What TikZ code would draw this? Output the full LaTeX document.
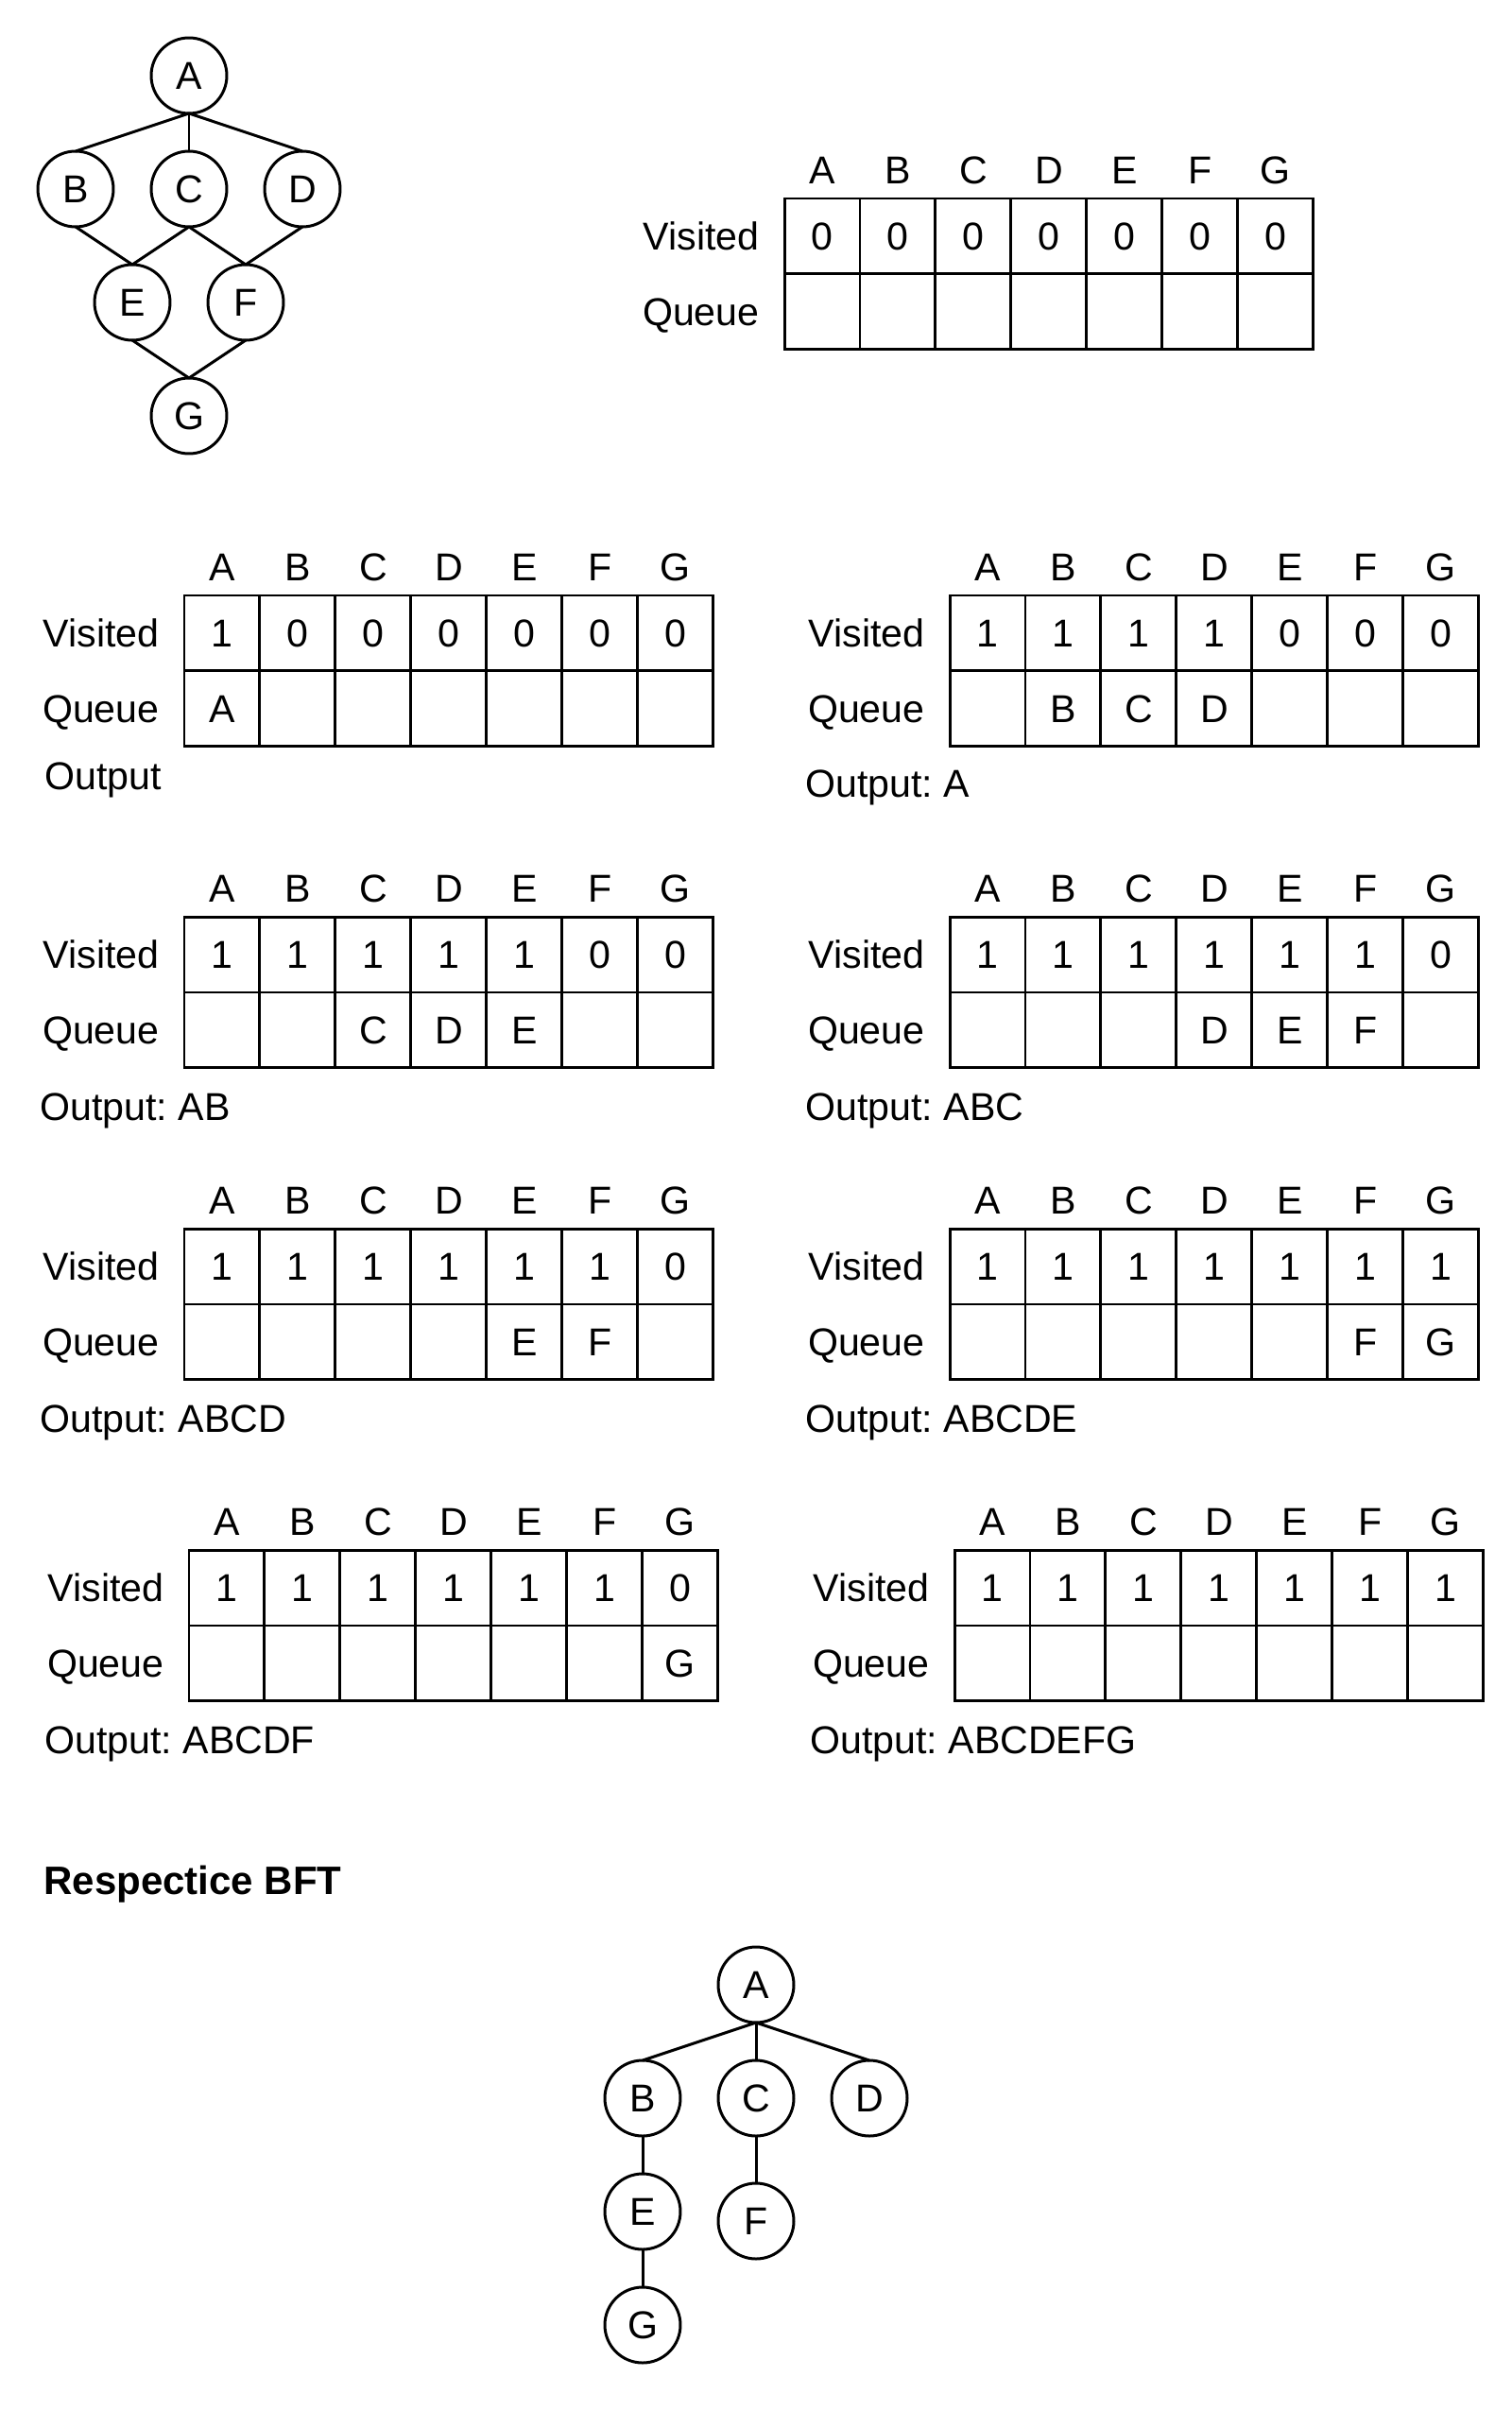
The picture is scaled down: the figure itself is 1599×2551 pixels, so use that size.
\documentclass[tikz,border=0pt]{standalone}
\usepackage{fontspec}
\setmainfont{Liberation Sans}
\frenchspacing
\usetikzlibrary{positioning}
\tikzset{
	vertex/.style  = {draw, circle, minimum size=1.6cm, inner sep=0pt, outer sep=0pt},
	cell/.style    = {draw, rectangle, minimum width=1.6cm, minimum height=1.6cm, inner sep=0pt, outer sep=0pt, text height=16.7pt, text depth=0pt},
	head/.style    = {inner sep=0pt, text height=16.7pt, text depth=0pt},
	rowname/.style = {inner sep=0pt, text height=16.7pt, text depth=0pt},
	outtext/.style = {anchor=west, inner sep=0pt, text height=16.7pt, text depth=0pt},
}
% one step of the traversal: name, top left corner, visited row, queue row
\newcommand{\bfsstep}[4]{%
	\coordinate (#1) at (#2);
	\foreach \v [count=\i] in {#3}
		\node[cell] (#1v\i) at ([xshift=\i*1.6cm-0.8cm, yshift=-0.8cm]#1) {\v};
	\foreach \q [count=\i] in {#4}
		\node[cell, below=0cm of #1v\i] (#1q\i) {\q};
	\foreach \h [count=\i] in {A,B,C,D,E,F,G}
		\node[head, above=0.28cm of #1v\i] (#1h\i) {\h};
	\node[rowname, left=0.5cm of #1v1] (#1vis) {Visited};
	\node[rowname, left=0.5cm of #1q1] (#1que) {Queue};
}

\begin{document}
\begin{tikzpicture}[x=0.02cm, y=-0.02cm, line width=1.7pt,
	every node/.style={font=\fontsize{23.4pt}{28pt}\selectfont}]
	\useasboundingbox (0,0) rectangle (1599,2551);

	% Draw the graph
	\node[vertex] (ga) at (200,80) {A};
	\node[vertex] (gb) at (80,200) {B};
	\node[vertex] (gc) at (200,200) {C};
	\node[vertex] (gd) at (320,200) {D};
	\node[vertex] (ge) at (140,320) {E};
	\node[vertex] (gf) at (260,320) {F};
	\node[vertex] (gg) at (200,440) {G};

	\draw (ga.south) -- (gb.north);
	\draw (ga.south) -- (gc.north);
	\draw (ga.south) -- (gd.north);
	\draw (gb.south) -- (ge.north);
	\draw (gc.south) -- (ge.north);
	\draw (gc.south) -- (gf.north);
	\draw (gd.south) -- (gf.north);
	\draw (ge.south) -- (gg.north);
	\draw (gf.south) -- (gg.north);

	% Draw the steps
	\bfsstep{s0}{830,210}{0,0,0,0,0,0,0}{{},{},{},{},{},{},{}}
	\bfsstep{s1}{195,630}{1,0,0,0,0,0,0}{A,{},{},{},{},{},{}}
	\bfsstep{s2}{1005,630}{1,1,1,1,0,0,0}{{},B,C,D,{},{},{}}
	\bfsstep{s3}{195,970}{1,1,1,1,1,0,0}{{},{},C,D,E,{},{}}
	\bfsstep{s4}{1005,970}{1,1,1,1,1,1,0}{{},{},{},D,E,F,{}}
	\bfsstep{s5}{195,1300}{1,1,1,1,1,1,0}{{},{},{},{},E,F,{}}
	\bfsstep{s6}{1005,1300}{1,1,1,1,1,1,1}{{},{},{},{},{},F,G}
	\bfsstep{s7}{200,1640}{1,1,1,1,1,1,0}{{},{},{},{},{},{},G}
	\bfsstep{s8}{1010,1640}{1,1,1,1,1,1,1}{{},{},{},{},{},{},{}}

	\node[outtext] (s1out) at (46,821) {Output};
	\node[outtext] (s2out) at (851,829) {Output: A};
	\node[outtext] (s3out) at (41,1171) {Output: AB};
	\node[outtext] (s4out) at (851,1171) {Output: ABC};
	\node[outtext] (s5out) at (41,1501) {Output: ABCD};
	\node[outtext] (s6out) at (851,1501) {Output: ABCDE};
	\node[outtext] (s7out) at (46,1841) {Output: ABCDF};
	\node[outtext] (s8out) at (856,1841) {Output: ABCDEFG};

	% Draw the resulting tree
	\node[outtext, font=\fontsize{23.9pt}{28pt}\selectfont\bfseries] (title) at (45,1990) {Respectice BFT};

	\node[vertex] (ta) at (800,2100) {A};
	\node[vertex] (tb) at (680,2220) {B};
	\node[vertex] (tc) at (800,2220) {C};
	\node[vertex] (td) at (920,2220) {D};
	\node[vertex] (te) at (680,2340) {E};
	\node[vertex] (tf) at (800,2350) {F};
	\node[vertex] (tg) at (680,2460) {G};

	\draw (ta.south) -- (tb.north);
	\draw (ta.south) -- (tc.north);
	\draw (ta.south) -- (td.north);
	\draw (tb.south) -- (te.north);
	\draw (tc.south) -- (tf.north);
	\draw (te.south) -- (tg.north);
\end{tikzpicture}
\end{document}
